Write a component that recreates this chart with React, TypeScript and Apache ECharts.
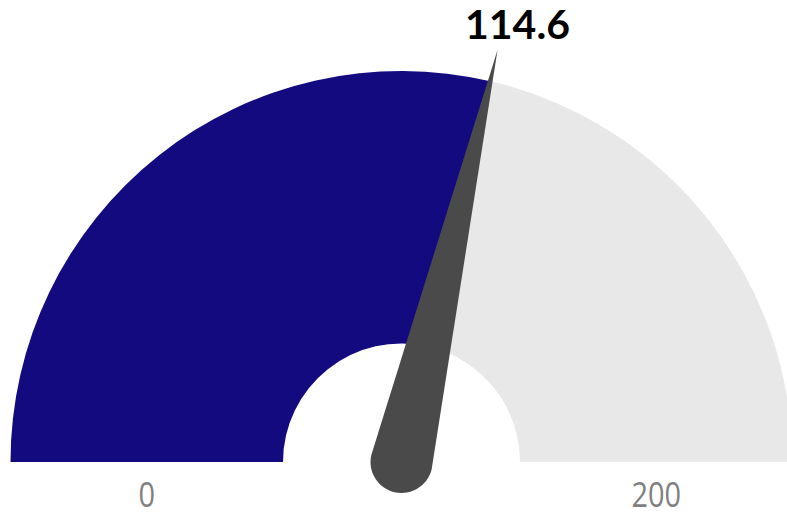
import React, { useEffect, useRef } from "react";
import * as echarts from "echarts";

const gaugeMin = 0;
const gaugeMax = 200;
const gaugeValue = [114.6];
const endLabels = ["0", "200"];

export default function App() {
  const ref = useRef<HTMLDivElement>(null);
  useEffect(() => {
    if (!ref.current) return;
    const chart = echarts.init(ref.current, null, { renderer: "svg" });
    const cx = 401.5;
    const cy = 462;
    const R = 391;
    const r0 = 118.5;
    const band = R - r0;
    const frac = (gaugeValue[0] - gaugeMin) / (gaugeMax - gaugeMin);
    const needlePath =
      "path://M31 0 L62 423 C62 440.1 48.1 454 31 454 C13.9 454 0 440.1 0 423 Z";
    chart.setOption({
      animation: false,
      series: [
        {
          type: "gauge",
          center: [cx, cy],
          radius: R,
          startAngle: 180,
          endAngle: 0,
          min: gaugeMin,
          max: gaugeMax,
          axisLine: {
            lineStyle: {
              width: band,
              color: [
                [frac, "#140a80"],
                [1, "#e8e8e8"],
              ],
            },
          },
          progress: { show: false },
          pointer: {
            show: true,
            icon: needlePath,
            width: 62,
            length: 454,
            offsetCenter: [0, 31],
            keepAspect: false,
            itemStyle: { color: "#4a4a4a" },
          },
          anchor: { show: false },
          axisTick: { show: false },
          splitLine: { show: false },
          axisLabel: { show: false },
          title: { show: false },
          detail: {
            show: true,
            offsetCenter: [116, -438.5],
            formatter: "{value}",
            fontFamily: "Lato",
            fontWeight: "bold",
            fontSize: 41,
            lineHeight: 41,
            color: "#000000",
          },
          data: gaugeValue.map((v) => ({ value: v })),
        },
      ],
      graphic: [
        {
          type: "text",
          x: cx - (R + r0) / 2,
          y: 494,
          scaleX: 0.85,
          style: {
            text: endLabels[0],
            fontFamily: "Open Sans",
            fontSize: 34,
            fill: "#808080",
            textAlign: "center",
            textVerticalAlign: "middle",
          },
        },
        {
          type: "text",
          x: cx + (R + r0) / 2,
          y: 494,
          scaleX: 0.85,
          style: {
            text: endLabels[1],
            fontFamily: "Open Sans",
            fontSize: 34,
            fill: "#808080",
            textAlign: "center",
            textVerticalAlign: "middle",
          },
        },
      ],
    });
    return () => chart.dispose();
  }, []);
  return (
    <div
      ref={ref}
      style={{ position: "fixed", left: 0, top: 0, width: 787, height: 516, background: "#ffffff" }}
    />
  );
}
